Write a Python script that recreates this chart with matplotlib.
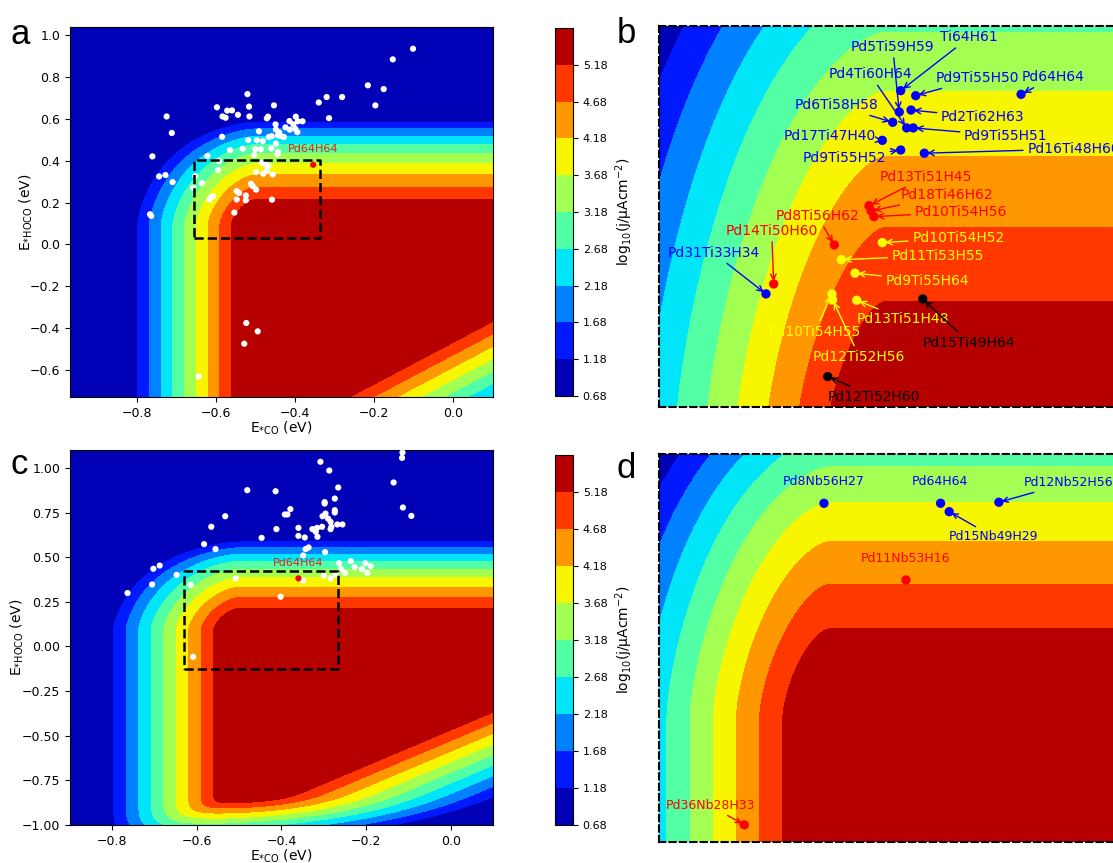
import numpy as np
import matplotlib
matplotlib.use('Agg')
import matplotlib.pyplot as plt

# colour levels of log10(j / uA cm-2)
levels = np.linspace(0.68, 5.68, 11)

# activity map: plateau and the onset of each limiting step (eV)
J_TOP = 6.18
KT10 = 0.0592          # kT ln10 at room temperature
CO_ON = -0.5008        # *CO desorption limits below this
HOCO_ON = 0.092        # *HOCO formation limits above this
DIAG_ON = 0.3492       # *HOCO -> *CO limits when E_CO - E_HOCO is large
LOW_ON = -0.816        # very strong *HOCO binding


def lp(a, b, n):
    return (a ** n + b ** n) ** (1.0 / n)


def activity(eco, ehoco):
    p_co = np.maximum(0, CO_ON - eco) / KT10
    u = np.maximum(0, ehoco - HOCO_ON)
    p_hoco = 8.2 * u + 18.8 * np.maximum(0, u - 0.122) ** 3
    p_diag = np.maximum(0, 8.42 * (eco - ehoco - DIAG_ON))
    p_low = np.maximum(0, 17.0 * (LOW_ON - ehoco))
    p_top = lp(p_co, p_hoco, 1.55)
    p_bot = lp(p_low, p_diag, 2.5)
    return J_TOP - lp(p_top, p_bot, 5)


# panel a: PdTi hydrides (white), Pd64H64 (red)
a_x = [-0.102, -0.153, -0.216, -0.176, -0.197, -0.281, -0.320, -0.340, -0.314, -0.520,
       -0.597, -0.571, -0.559, -0.516, -0.453, -0.544, -0.583, -0.575, -0.515, -0.471,
       -0.468, -0.724, -0.711, -0.760, -0.743, -0.727, -0.709, -0.766, -0.763, -0.584,
       -0.564, -0.621, -0.532, -0.518, -0.491, -0.496, -0.481, -0.500, -0.486, -0.503,
       -0.460, -0.448, -0.443, -0.444, -0.466, -0.459, -0.449, -0.448, -0.440, -0.428,
       -0.424, -0.414, -0.404, -0.398, -0.393, -0.381, -0.399, -0.394, -0.413, -0.435,
       -0.592, -0.594, -0.652, -0.635, -0.657, -0.484, -0.475, -0.467, -0.498, -0.480,
       -0.471, -0.456, -0.511, -0.507, -0.498, -0.547, -0.541, -0.547, -0.524, -0.524,
       -0.612, -0.607, -0.616, -0.553, -0.458, -0.523, -0.494, -0.528, -0.643, -0.443]
a_y = [0.936, 0.885, 0.761, 0.743, 0.665, 0.705, 0.705, 0.679, 0.604, 0.719,
       0.656, 0.640, 0.641, 0.659, 0.665, 0.620, 0.612, 0.606, 0.612, 0.603,
       0.611, 0.612, 0.533, 0.421, 0.325, 0.332, 0.298, 0.144, 0.136, 0.515,
       0.451, 0.423, 0.458, 0.499, 0.541, 0.498, 0.494, 0.456, 0.455, 0.429,
       0.459, 0.482, 0.442, 0.431, 0.514, 0.518, 0.574, 0.549, 0.536, 0.514,
       0.560, 0.590, 0.574, 0.611, 0.589, 0.589, 0.553, 0.537, 0.549, 0.518,
       0.399, 0.356, 0.327, 0.293, 0.271, 0.391, 0.383, 0.375, 0.346, 0.338,
       0.351, 0.335, 0.290, 0.279, 0.262, 0.255, 0.246, 0.215, 0.234, 0.211,
       0.226, 0.230, 0.215, 0.152, 0.214, -0.376, -0.416, -0.475, -0.632, 0.522]
a_ref = (-0.354, 0.381)

# panel c: PdNb hydrides (white), Pd64H64 (red)
c_x = [-0.114, -0.115, -0.308, -0.287, -0.135, -0.266, -0.481, -0.414, -0.274, -0.298,
       -0.298, -0.113, -0.093, -0.533, -0.379, -0.392, -0.386, -0.566, -0.274, -0.274,
       -0.296, -0.303, -0.290, -0.284, -0.268, -0.256, -0.282, -0.284, -0.304, -0.316,
       -0.327, -0.319, -0.315, -0.360, -0.360, -0.345, -0.412, -0.447, -0.583, -0.556,
       -0.343, -0.336, -0.349, -0.297, -0.703, -0.688, -0.706, -0.764, -0.648, -0.615,
       -0.508, -0.349, -0.402, -0.609, -0.264, -0.236, -0.259, -0.250, -0.227, -0.210,
       -0.202, -0.189, -0.197, -0.300, -0.284, -0.272]
c_y = [1.086, 1.056, 1.034, 0.985, 0.918, 0.890, 0.875, 0.869, 0.828, 0.808,
       0.800, 0.778, 0.731, 0.729, 0.769, 0.739, 0.739, 0.670, 0.763, 0.750,
       0.744, 0.729, 0.716, 0.698, 0.683, 0.683, 0.670, 0.657, 0.670, 0.664,
       0.657, 0.642, 0.614, 0.664, 0.619, 0.610, 0.657, 0.608, 0.573, 0.545,
       0.545, 0.554, 0.509, 0.528, 0.435, 0.453, 0.347, 0.299, 0.401, 0.345,
       0.381, 0.369, 0.278, -0.058, 0.466, 0.478, 0.433, 0.412, 0.444, 0.433,
       0.466, 0.450, 0.412, 0.397, 0.381, 0.403]
c_ref = (-0.360, 0.381)

# panel b: labelled PdTi hydrides
b_names = ['Ti64H61', 'Pd5Ti59H59', 'Pd4Ti60H64', 'Pd9Ti55H50', 'Pd64H64', 'Pd2Ti62H63',
           'Pd6Ti58H58', 'Pd9Ti55H51', 'Pd17Ti47H40', 'Pd9Ti55H52', 'Pd16Ti48H60',
           'Pd31Ti33H34', 'Pd13Ti51H45', 'Pd18Ti46H62', 'Pd10Ti54H56', 'Pd8Ti56H62',
           'Pd14Ti50H60', 'Pd10Ti54H52', 'Pd11Ti53H55', 'Pd9Ti55H64', 'Pd13Ti51H48',
           'Pd10Ti54H55', 'Pd12Ti52H56', 'Pd15Ti49H64', 'Pd12Ti52H60']
b_x = [-0.4852, -0.4866, -0.4793, -0.4704, -0.3666, -0.4750, -0.4931, -0.4728, -0.5033,
       -0.4852, -0.4619, -0.6179, -0.5164, -0.5144, -0.5115, -0.5506, -0.6103, -0.5033,
       -0.5437, -0.5302, -0.5285, -0.5529, -0.5522, -0.4635, -0.5571]
b_y = [0.3859, 0.3685, 0.3555, 0.3818, 0.3829, 0.3701, 0.3601, 0.3555, 0.3454, 0.3375,
       0.3349, 0.2202, 0.2921, 0.2878, 0.2832, 0.2601, 0.2283, 0.2620, 0.2481, 0.2371,
       0.2150, 0.2202, 0.2153, 0.2161, 0.1528]
b_tx = [-0.4176, -0.4931, -0.5154, -0.4093, -0.3348, -0.4044, -0.5489, -0.3817, -0.5548,
        -0.5407, -0.3150, -0.6698, -0.4602, -0.4393, -0.4261, -0.5673, -0.6123, -0.4284,
        -0.4487, -0.4590, -0.4826, -0.5696, -0.5260, -0.4176, -0.5112]
b_ty = [0.4294, 0.4217, 0.3992, 0.3960, 0.3968, 0.3642, 0.3740, 0.3492, 0.3490, 0.3313,
        0.3384, 0.2538, 0.3158, 0.3009, 0.2870, 0.2838, 0.2718, 0.2658, 0.2514, 0.2310,
        0.1996, 0.1895, 0.1691, 0.1805, 0.1365]
b_col = ['blue'] * 12 + ['red'] * 5 + ['yellow'] * 6 + ['black'] * 2

# panel d: labelled PdNb hydrides
d_names = ['Pd8Nb56H27', 'Pd64H64', 'Pd12Nb52H56', 'Pd15Nb49H29', 'Pd11Nb53H16', 'Pd36Nb28H33']
d_x = [-0.5075, -0.3587, -0.2843, -0.3477, -0.4029, -0.6092]
d_y = [0.3842, 0.3842, 0.3856, 0.3728, 0.2803, -0.0517]
d_tx = [-0.5084, -0.3596, -0.1959, -0.2916, -0.4029, -0.6529]
d_ty = [0.4135, 0.4135, 0.4121, 0.3389, 0.3097, -0.0255]
d_col = ['blue'] * 4 + ['red'] * 2
d_arrow = [False, False, True, True, False, True]

W, H = 1113, 863


def box(l, t, r, b):
    return [l / W, 1 - b / H, (r - l) / W, (b - t) / H]


def draw_map(ax, xlim, ylim):
    gx = np.linspace(xlim[0], xlim[1], 700)
    gy = np.linspace(ylim[0], ylim[1], 700)
    X, Y = np.meshgrid(gx, gy)
    Z = np.clip(activity(X, Y), levels[0] + 1e-6, levels[-1] - 1e-6)
    cs = ax.contourf(X, Y, Z, levels=levels, cmap='jet')
    ax.set_xlim(xlim)
    ax.set_ylim(ylim)
    return cs


def dashed_frame(ax):
    ax.set_xticks([])
    ax.set_yticks([])
    for s in ax.spines.values():
        s.set_linestyle((0, (3, 2)))
        s.set_linewidth(1.5)


fig = plt.figure(figsize=(11.13, 8.63), dpi=100)

xlab = r'E$_{*\mathrm{CO}}$ (eV)'
ylab = r'E$_{*\mathrm{HOCO}}$ (eV)'
cblab = r'log$_{10}$(j/μAcm$^{-2}$)'

# ---- a ----
ax = fig.add_axes(box(70, 27, 493, 397))
cs = draw_map(ax, (-0.968, 0.1), (-0.73, 1.04))
ax.scatter(a_x, a_y, s=20, c='white', edgecolors='none', zorder=3)
ax.scatter([a_ref[0]], [a_ref[1]], s=20, c='red', edgecolors='none', zorder=4)
ax.text(a_ref[0], a_ref[1] + 0.075, 'Pd64H64', color='#e02020', fontsize=8, ha='center', va='center')
ax.plot([-0.655, -0.338, -0.338, -0.655, -0.655], [0.032, 0.032, 0.405, 0.405, 0.032],
        'k--', lw=1.8, zorder=5)
ax.set_yticks(np.arange(-0.6, 1.01, 0.2))
ax.set_xticks(np.arange(-0.8, 0.01, 0.2))
ax.tick_params(labelsize=9)
ax.set_xlabel(xlab, fontsize=10, labelpad=0)
ax.set_ylabel(ylab, fontsize=10, labelpad=-3.5)
cax = fig.add_axes(box(555, 28, 573, 396))
cb = fig.colorbar(cs, cax=cax, ticks=levels[:-1])
cb.ax.tick_params(labelsize=8)
cb.ax.set_yticklabels(['%.2f' % v for v in levels[:-1]])
cb.set_label(cblab, fontsize=10)

# ---- c ----
ax = fig.add_axes(box(70, 450, 493, 825))
cs = draw_map(ax, (-0.9, 0.1), (-1.0, 1.1))
ax.scatter(c_x, c_y, s=20, c='white', edgecolors='none', zorder=3)
ax.scatter([c_ref[0]], [c_ref[1]], s=20, c='red', edgecolors='none', zorder=4)
ax.text(c_ref[0], c_ref[1] + 0.085, 'Pd64H64', color='#e02020', fontsize=8, ha='center', va='center')
ax.plot([-0.630, -0.266, -0.266, -0.630, -0.630], [-0.129, -0.129, 0.422, 0.422, -0.129],
        'k--', lw=1.8, zorder=5)
ax.set_yticks(np.arange(-1.0, 1.01, 0.25))
ax.set_xticks(np.arange(-0.8, 0.01, 0.2))
ax.tick_params(labelsize=9)
ax.set_xlabel(xlab, fontsize=10, labelpad=0)
ax.set_ylabel(ylab, fontsize=10, labelpad=-3)
cax = fig.add_axes(box(555, 455, 573, 825))
cb = fig.colorbar(cs, cax=cax, ticks=levels[:-1])
cb.ax.tick_params(labelsize=8)
cb.ax.set_yticklabels(['%.2f' % v for v in levels[:-1]])
cb.set_label(cblab, fontsize=10)

# ---- b ----
ax = fig.add_axes(box(659, 26, 1130, 407))
draw_map(ax, (-0.7233, -0.2593), (0.128, 0.4386))
for i in range(len(b_names)):
    ax.scatter([b_x[i]], [b_y[i]], s=45, c=b_col[i], edgecolors='none', zorder=4)
    ax.annotate(b_names[i], xy=(b_x[i], b_y[i]), xytext=(b_tx[i], b_ty[i]),
                color=b_col[i], fontsize=10, ha='center', va='center', annotation_clip=False,
                arrowprops=dict(arrowstyle='->', color=b_col[i], lw=1, shrinkA=1, shrinkB=2))
dashed_frame(ax)

# ---- d ----
ax = fig.add_axes(box(659, 454, 1130, 842))
draw_map(ax, (-0.718, -0.117), (-0.075, 0.451))
for i in range(len(d_names)):
    ax.scatter([d_x[i]], [d_y[i]], s=45, c=d_col[i], edgecolors='none', zorder=4)
    if d_arrow[i]:
        ax.annotate(d_names[i], xy=(d_x[i], d_y[i]), xytext=(d_tx[i], d_ty[i]),
                    color=d_col[i], fontsize=9, ha='center', va='center', annotation_clip=False,
                    arrowprops=dict(arrowstyle='->', color=d_col[i], lw=1, shrinkA=1, shrinkB=2))
    else:
        ax.text(d_tx[i], d_ty[i], d_names[i], color=d_col[i], fontsize=9, ha='center', va='center')
dashed_frame(ax)

# panel letters
for lab, (px, py) in zip('abcd', [(10, 44), (617, 43), (10, 474), (617, 478)]):
    fig.text(px / W, 1 - py / H, lab, fontsize=25, family=['Liberation Sans', 'DejaVu Sans'])

fig.savefig('out.png', dpi=100)
